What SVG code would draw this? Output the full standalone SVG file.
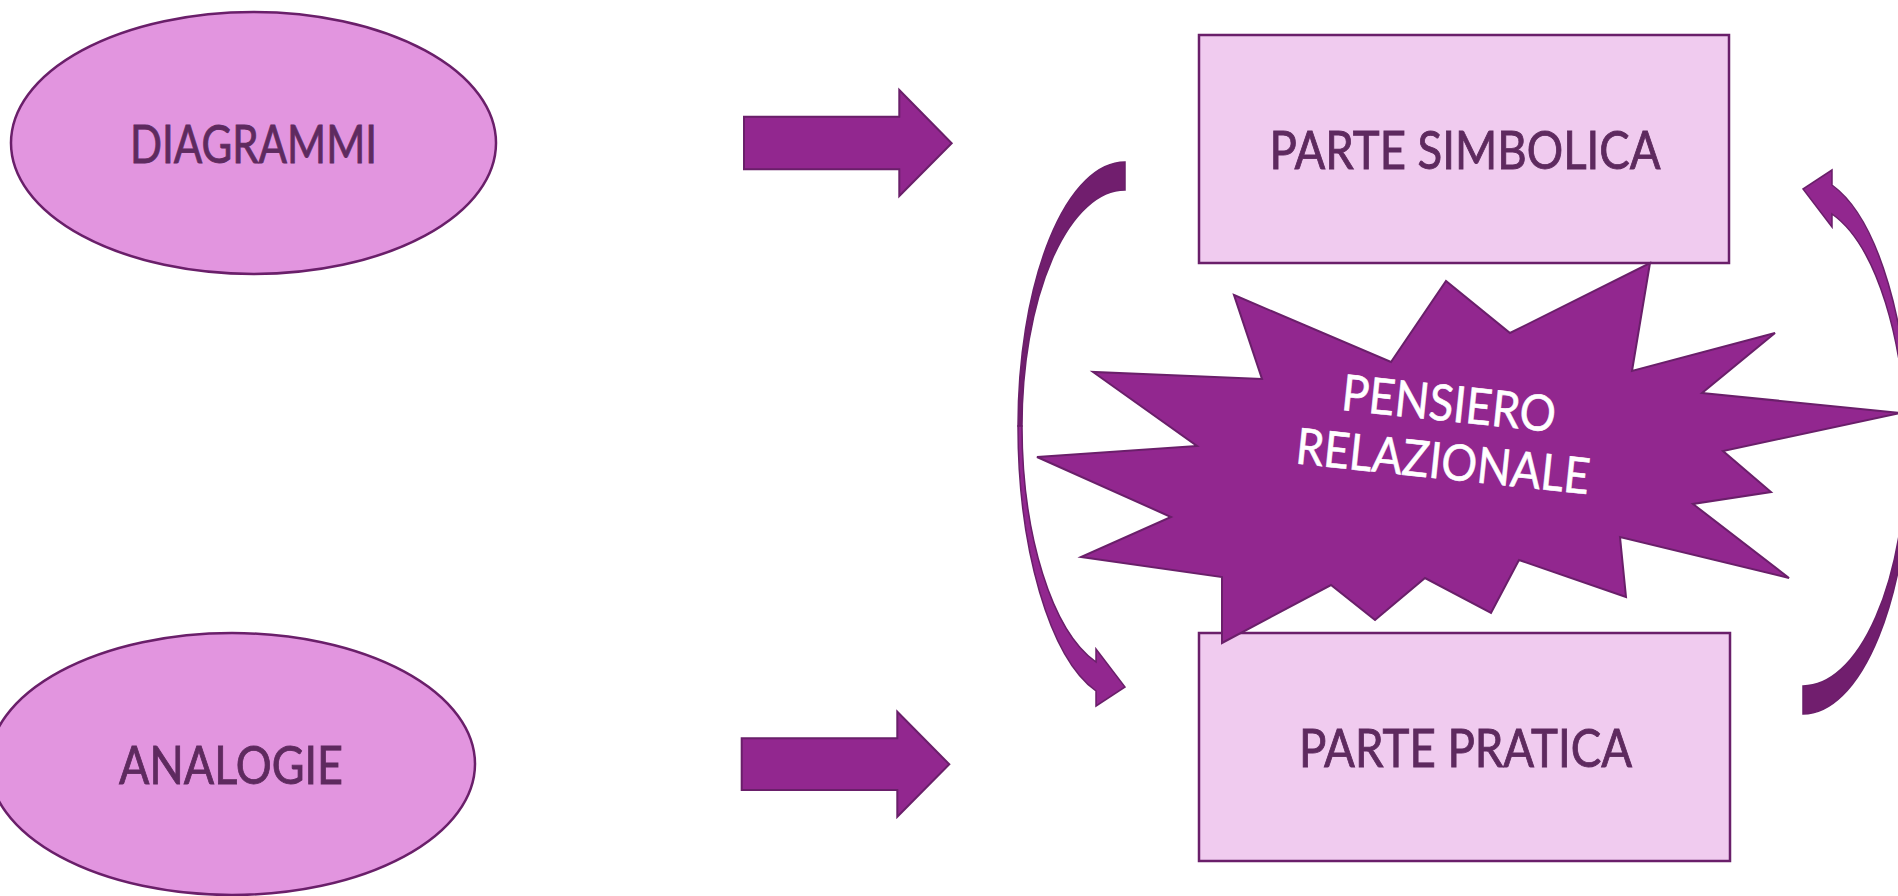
<svg xmlns="http://www.w3.org/2000/svg" width="1898" height="896" viewBox="0 0 1898 896">
  <style>
    .ell { fill:#E295DF; stroke:#6A1F6A; stroke-width:2.5; }
    .box { fill:#F0CBEF; stroke:#6A1F6A; stroke-width:2.5; }
    .arr { fill:#92278F; stroke:#6A1F6A; stroke-width:2; stroke-linejoin:miter; }
    .back { fill:#711E6E; stroke:#6A1F6A; stroke-width:1.5; }
    .front { fill:#92278F; stroke:#6A1F6A; stroke-width:1.5; }
    .lbl { font-family:Lato, "Open Sans", "Liberation Sans", sans-serif; font-size:53px; fill:#5E2A5F; stroke:#5E2A5F; stroke-width:0.9; text-anchor:middle; }
    .wht { font-family:Lato, "Open Sans", "Liberation Sans", sans-serif; font-size:50px; fill:#FFFFFF; stroke:#FFFFFF; stroke-width:0.6; text-anchor:middle; }
  </style>
  <defs>
    <g id="curved">
      <path class="back" d="M1125,162 A107,264 0 0 0 1018,426 L1022,426 A103,236 0 0 1 1125,190 Z"/>
      <path class="front" d="M1018,426 A107,275 0 0 0 1096,691 L1096,706 L1125,687 L1096,649 L1096,662 A103,246 0 0 1 1022,426 Z"/>
    </g>
  </defs>
  <rect width="1898" height="896" fill="#FFFFFF"/>

  <g id="diagrammi">
    <ellipse class="ell" cx="253.5" cy="143" rx="242.5" ry="131"/>
    <text class="lbl" x="253.5" y="163" textLength="247" lengthAdjust="spacingAndGlyphs">DIAGRAMMI</text>
  </g>

  <g id="analogie">
    <ellipse class="ell" cx="232" cy="764" rx="243" ry="131"/>
    <text class="lbl" x="231" y="784" textLength="224" lengthAdjust="spacingAndGlyphs">ANALOGIE</text>
  </g>

  <g id="parte-simbolica">
    <rect class="box" x="1199" y="35" width="530" height="228"/>
    <text class="lbl" x="1465" y="169" textLength="391" lengthAdjust="spacingAndGlyphs">PARTE SIMBOLICA</text>
  </g>

  <g id="parte-pratica">
    <rect class="box" x="1199" y="633" width="531" height="228"/>
    <text class="lbl" x="1465.5" y="767" textLength="333" lengthAdjust="spacingAndGlyphs">PARTE PRATICA</text>
  </g>

  <g id="connectors">
    <path class="arr" d="M744,116.7 H899.3 V90 L951.7,143.3 L899.3,196 V169.3 H744 Z"/>
    <path class="arr" d="M741.7,738.3 H897.3 V711.7 L949.3,764.3 L897.3,816.7 V790 H741.7 Z"/>
    <use href="#curved"/>
    <use href="#curved" transform="rotate(180 1464 438)"/>
  </g>

  <g id="pensiero-relazionale">
    <path class="arr" d="M1234,295 L1391,362 L1446,281 L1510,333 L1650,263 L1632,371 L1775,333 L1702,393 L1900,413 L1723,451 L1771,492 L1693,504 L1789,578 L1620,537 L1626,597 L1519,560 L1491,613 L1425,578 L1375,620 L1331,585 L1222,643 L1222,577 L1081,557 L1171,517 L1037,457 L1197,446 L1093,372 L1262,379 Z"/>
    <g transform="rotate(6 1446 432)">
      <text class="wht" x="1446" y="421" textLength="215" lengthAdjust="spacingAndGlyphs">PENSIERO</text>
      <text class="wht" x="1446" y="479" textLength="295" lengthAdjust="spacingAndGlyphs">RELAZIONALE</text>
    </g>
  </g>
</svg>
